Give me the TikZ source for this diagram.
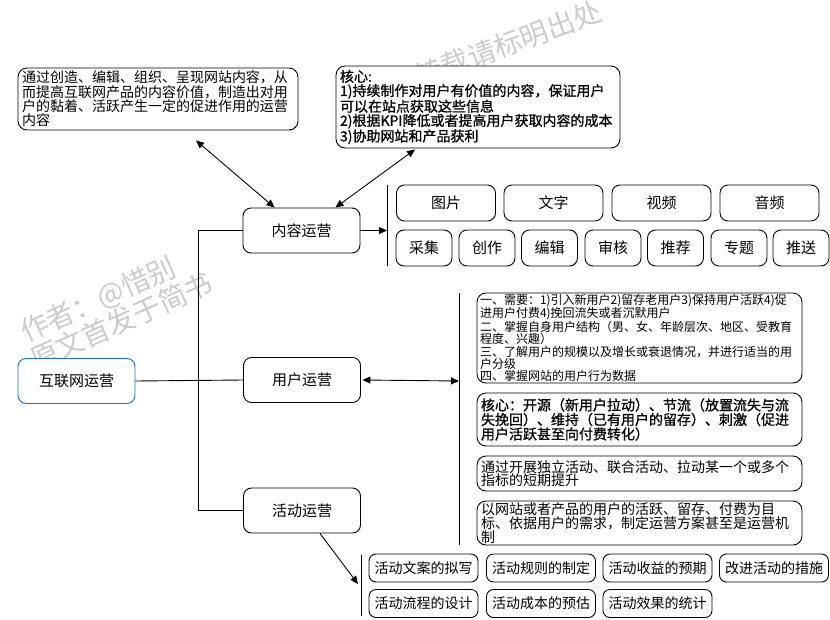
\documentclass[tikz,border=0pt]{standalone}
\usepackage{fontspec}
\setmainfont{Noto Sans CJK SC}
\newfontfamily\cjkb[FakeBold=1]{Noto Sans CJK SC}
\usetikzlibrary{arrows.meta,calc}
\definecolor{rootblue}{HTML}{1F6FC2}
\begin{document}
\begin{tikzpicture}[x=1pt,y=-1pt,
  box/.style={draw,line width=0.9pt,rounded corners=8pt,inner sep=0pt,fill=white},
  bigbox/.style={box,minimum width=117pt,minimum height=45pt,font=\fontsize{15}{17}\selectfont},
  tagbox/.style={box,minimum height=36pt,font=\fontsize{15}{17}\selectfont},
  actbox/.style={box,rounded corners=7pt,minimum width=109pt,minimum height=28pt,font=\fontsize{14}{16}\selectfont},
  txtbox/.style={box,rounded corners=9pt,align=left},
  wm/.style={text=black!20,font=\fontsize{28}{30}\selectfont,inner sep=0pt},
  conn/.style={line width=0.9pt},
  arr/.style={conn,-{Triangle[length=8pt,width=7pt]}},
  darr/.style={conn,{Triangle[length=8pt,width=7pt]}-{Triangle[length=8pt,width=7pt]}},
  bar/.style={line width=0.9pt}]
\useasboundingbox (0,0) rectangle (830,619);
\fill[white] (0,0) rectangle (830,619);
% watermarks
\node[wm,rotate=24,anchor=base west] (wm1) at (26,343) {作者：@惜别};
\node[wm,rotate=24,anchor=base west] (wm2) at (36,371) {原文首发于简书};
\node[wm,rotate=20] (wm3) at (508,44) {转载请标明出处};
% top text boxes
\node[txtbox,minimum width=280pt,minimum height=62pt,text width=272pt,
  font=\fontsize{14}{13}\selectfont] (tl) at (158,99)
  {通过创造、编辑、组织、呈现网站内容，从\\而提高互联网产品的内容价值，制造出对用\\户的黏着、活跃产生一定的促进作用的运营\\内容};
\node[txtbox,minimum width=284pt,minimum height=82pt,text width=276pt,
  font=\fontsize{14}{14.2}\cjkb] (tr) at (478,107)
  {核心:\\1)持续制作对用户有价值的内容，保证用户\\可以在站点获取这些信息\\2)根据KPI降低或者提高用户获取内容的成本\\3)协助网站和产品获利};
% main nodes
\node[bigbox,draw=rootblue] (root) at (76.5,381) {互联网运营};
\node[bigbox] (nr) at (301.5,230.5) {内容运营};
\node[bigbox] (yh) at (302,380) {用户运营};
\node[bigbox] (hd) at (302,510.5) {活动运营};
% content type boxes
\node[tagbox,minimum width=99pt] (t1) at (446,203) {图片};
\node[tagbox,minimum width=99pt] (t2) at (553.5,203) {文字};
\node[tagbox,minimum width=99pt] (t3) at (661.5,203) {视频};
\node[tagbox,minimum width=99pt] (t4) at (769.5,203) {音频};
\node[tagbox,minimum width=56pt] (s1) at (424,248) {采集};
\node[tagbox,minimum width=56pt] (s2) at (487,248) {创作};
\node[tagbox,minimum width=56pt] (s3) at (549.5,248) {编辑};
\node[tagbox,minimum width=56pt] (s4) at (613,248) {审核};
\node[tagbox,minimum width=56pt] (s5) at (675.5,248) {推荐};
\node[tagbox,minimum width=56pt] (s6) at (739,248) {专题};
\node[tagbox,minimum width=56pt] (s7) at (801,248) {推送};
% user boxes
\node[txtbox,minimum width=325pt,minimum height=90pt,text width=319pt,
  font=\fontsize{12}{12.4}\selectfont] (ua) at (639.5,338)
  {一、需要：1)引入新用户2)留存老用户3)保持用户活跃4)促\\进用户付费4)挽回流失或者沉默用户\\二、掌握自身用户结构（男、女、年龄层次、地区、受教育\\程度、兴趣）\\三、了解用户的规模以及增长或衰退情况，并进行适当的用\\户分级\\四、掌握网站的用户行为数据};
\node[txtbox,minimum width=325pt,minimum height=53pt,text width=317pt,
  font=\fontsize{14}{14.5}\cjkb] (ub) at (639.5,419.5)
  {核心：开源（新用户拉动）、节流（放置流失与流\\失挽回）、维持（已有用户的留存）、刺激（促进\\用户活跃甚至向付费转化）};
\node[txtbox,minimum width=325pt,minimum height=35pt,text width=317pt,
  font=\fontsize{14}{13.5}\selectfont] (uc) at (639.5,473.5)
  {通过开展独立活动、联合活动、拉动某一个或多个\\指标的短期提升};
\node[txtbox,minimum width=325pt,minimum height=44pt,text width=317pt,
  font=\fontsize{14}{13.8}\selectfont] (ud) at (639.5,523)
  {以网站或者产品的用户的活跃、留存、付费为目\\标、依据用户的需求，制定运营方案甚至是运营机\\制};
% activity boxes
\node[actbox] (a1) at (423.5,568) {活动文案的拟写};
\node[actbox] (a2) at (541,568) {活动规则的制定};
\node[actbox] (a3) at (657.5,568) {活动收益的预期};
\node[actbox] (a4) at (774,568) {改进活动的措施};
\node[actbox] (a5) at (423.5,603.5) {活动流程的设计};
\node[actbox] (a6) at (541,603.5) {活动成本的预估};
\node[actbox] (a7) at (657.5,603.5) {活动效果的统计};
% bars
\coordinate (b1top) at (387,185); \coordinate (b1bot) at (387,266);
\coordinate (b2top) at (459,293); \coordinate (b2bot) at (459,545);
\coordinate (b3top) at (361,555); \coordinate (b3bot) at (361,616);
\draw[bar] (b1top) -- (b1bot);
\draw[bar] (b2top) -- (b2bot);
\draw[bar] (b3top) -- (b3bot);
% trunk
\coordinate (trunk) at (198,0);
\draw[conn] (root.east) -- (yh.west);
\draw[conn] (nr.west) -- (nr.west -| trunk) -- (hd.west -| trunk) -- (hd.west);
% arrows
\draw[arr] (nr.east) -- (nr.east -| b1top);
\draw[darr] ([xshift=1.5pt]yh.east) -- ([yshift=-1pt]yh.east -| b2top);
\coordinate (hdtip) at (358,584);
\draw[arr] ([xshift=18pt]hd.south) -- (hdtip);
\draw[darr] ([xshift=38pt,yshift=-10pt]tl.south) -- ([xshift=32pt]nr.north west);
\draw[darr] ([xshift=-63pt,yshift=-1pt]tr.south) -- ([xshift=-25pt]nr.north east);
\end{tikzpicture}
\end{document}
